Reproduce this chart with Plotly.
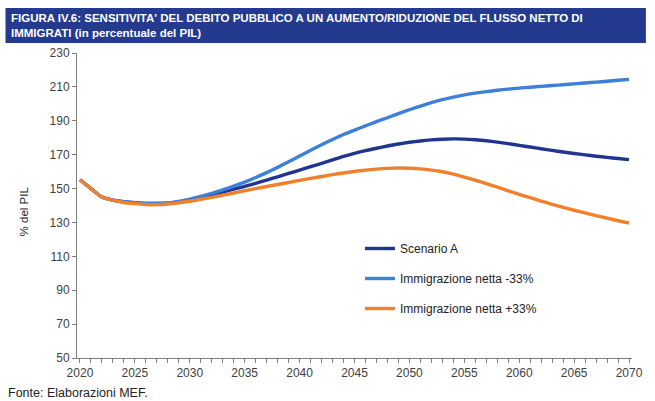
import plotly.graph_objects as go

years = list(range(2020, 2071))

scenario_a = [155.2, 150.0, 145.0, 143.2, 142.2, 141.6, 141.2, 141.2, 141.4, 142.3,
              143.5, 144.8, 146.3, 147.9, 149.6, 151.3, 153.1, 155.0, 156.9, 158.9,
              160.9, 162.9, 164.9, 166.9, 169.0, 170.8, 172.4, 173.8, 175.1, 176.3,
              177.3, 178.1, 178.7, 179.1, 179.3, 179.2, 178.8, 178.2, 177.4, 176.5,
              175.5, 174.5, 173.5, 172.5, 171.6, 170.7, 169.9, 169.1, 168.4, 167.7,
              167.1]

immig_minus33 = [155.2, 150.0, 145.0, 143.2, 142.2, 141.6, 141.2, 141.2, 141.5, 142.4,
                 143.8, 145.4, 147.2, 149.2, 151.4, 153.8, 156.5, 159.4, 162.5, 165.8,
                 169.2, 172.6, 175.9, 179.0, 181.9, 184.5, 187.0, 189.5, 191.8, 194.2,
                 196.5, 198.7, 200.7, 202.5, 204.0, 205.3, 206.3, 207.2, 208.0, 208.7,
                 209.3, 209.8, 210.3, 210.8, 211.3, 211.8, 212.3, 212.8, 213.3, 213.9,
                 214.4]

immig_plus33 = [155.2, 150.0, 145.0, 143.0, 141.8, 141.1, 140.6, 140.5, 140.9, 141.6,
                142.5, 143.6, 144.8, 146.1, 147.4, 148.7, 150.0, 151.2, 152.4, 153.6,
                154.8, 156.0, 157.1, 158.2, 159.2, 160.1, 160.9, 161.5, 161.9, 162.1,
                162.0, 161.6, 160.9, 159.9, 158.5, 156.8, 154.9, 152.9, 150.8, 148.7,
                146.6, 144.6, 142.6, 140.7, 138.9, 137.2, 135.6, 134.0, 132.5, 131.0,
                129.6]

series_names = ["Scenario A", "Immigrazione netta -33%", "Immigrazione netta +33%"]
series_values = [scenario_a, immig_minus33, immig_plus33]
series_colors = ["#1f3590", "#3d7fda", "#f0802c"]

y_ticks = list(range(50, 231, 20))
x_ticks = list(range(2020, 2071, 5))

fig = go.Figure()
for i, (name, vals, col) in enumerate(zip(series_names, series_values, series_colors)):
    fig.add_trace(go.Scatter(
        x=years, y=vals, name=name, mode="lines",
        line=dict(color=col, width=3.4, shape="spline", smoothing=0.6),
        legendgroup=f"g{i}",
    ))

W, H = 655, 401
L, R, T, B = 77, 19, 53, 43
pw = W - L - R
ph = H - T - B

def px2x(px):
    return (px - L) / pw

def px2y(py):
    return (H - B - py) / ph

axis_font = dict(family="Liberation Sans, Arial, sans-serif", size=12, color="#404040")

fig.update_layout(
    width=W, height=H,
    margin=dict(l=L, r=R, t=T, b=B, pad=0),
    paper_bgcolor="white", plot_bgcolor="white",
    showlegend=True,
    legend=dict(
        x=px2x(362), y=px2y(234), xanchor="left", yanchor="top",
        font=dict(family="Liberation Sans, Arial, sans-serif", size=12, color="#222222"),
        bgcolor="rgba(0,0,0,0)", tracegroupgap=11,
    ),
    xaxis=dict(
        range=[2019.73, 2070.27], tickmode="array", tickvals=x_ticks,
        ticktext=[str(v) for v in x_ticks],
        showgrid=False, zeroline=False, showline=True, linecolor="#7f7f7f", linewidth=1,
        ticks="outside", ticklen=4, tickcolor="#7f7f7f",
        minor=dict(dtick=1, tick0=2020, ticks="outside", ticklen=4, tickcolor="#7f7f7f", showgrid=False),
        tickfont=axis_font,
    ),
    yaxis=dict(
        range=[50, 230], tickmode="array", tickvals=y_ticks,
        showgrid=False, zeroline=False, showline=True, linecolor="#7f7f7f", linewidth=1,
        ticks="outside", ticklen=4, tickcolor="#7f7f7f",
        tickfont=axis_font,
    ),
    shapes=[dict(
        type="rect", xref="paper", yref="paper",
        x0=px2x(5), x1=px2x(650), y0=px2y(43), y1=px2y(8),
        fillcolor="#233a8e", line=dict(width=0), layer="below",
    )],
    annotations=[
        dict(
            xref="paper", yref="paper", x=px2x(9), y=px2y(10),
            xanchor="left", yanchor="top", align="left", showarrow=False,
            text="<b>FIGURA IV.6: SENSITIVITA' DEL DEBITO PUBBLICO A UN AUMENTO/RIDUZIONE DEL FLUSSO NETTO DI<br>IMMIGRATI (in percentuale del PIL)</b>",
            font=dict(family="Liberation Sans, Arial, sans-serif", size=11.5, color="white"),
        ),
        dict(
            xref="paper", yref="paper", x=px2x(24), y=px2y(211),
            xanchor="center", yanchor="middle", showarrow=False, textangle=-90,
            text="% del PIL",
            font=dict(family="Liberation Sans, Arial, sans-serif", size=11.5, color="#222222"),
        ),
        dict(
            xref="paper", yref="paper", x=px2x(5), y=px2y(393),
            xanchor="left", yanchor="middle", showarrow=False,
            text="Fonte: Elaborazioni MEF.",
            font=dict(family="Liberation Sans, Arial, sans-serif", size=12.5, color="#222222"),
        ),
    ],
)

fig.write_html("out.html")
